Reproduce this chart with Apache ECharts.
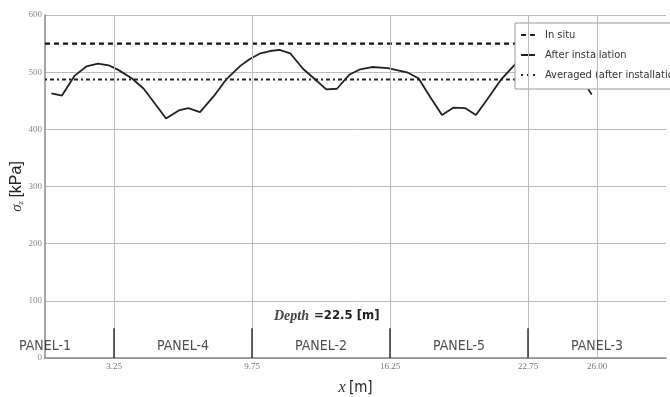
<!DOCTYPE html>
<html>
<head>
<meta charset="utf-8">
<script src="https://cdn.jsdelivr.net/npm/echarts@6/dist/echarts.min.js"></script>
<style>html,body{margin:0;padding:0;background:#fff}#c{width:670px;height:397px}</style>
</head>
<body>
<div id="c"></div>
<script>
// ---- data ----
var xPos = [0.3, 0.8, 1.4, 1.95, 2.5, 3.0, 3.45, 4.1, 4.65, 5.2, 5.7, 6.3, 6.75, 7.3, 7.95, 8.55, 9.2, 9.65, 10.15, 10.6, 11.05, 11.55, 12.15, 12.7, 13.25, 13.75, 14.35, 14.85, 15.4, 16.15, 17.1, 17.6, 18.15, 18.7, 19.25, 19.8, 20.3, 20.9, 21.5, 22.15, 22.7, 23.3, 23.9, 24.6, 25.2, 25.75];
var sigmaAfter = [463, 459, 494, 510, 515, 512, 504, 489, 471, 444, 419, 433, 437, 430, 458, 488, 511, 523, 533, 537, 539, 533, 506, 488, 470, 471, 496, 505, 509, 507, 499, 489, 456, 425, 438, 437, 425, 456, 488, 514, 530, 538, 535, 518, 492, 461];
var sigmaInSitu = 550;
var sigmaAveraged = 487;
var xRange = [0, 29.25];
var xTicks = [3.25, 9.75, 16.25, 22.75, 26.00];
var panelJoints = [3.25, 9.75, 16.25, 22.75];
var panelJointHeight = 52;
var panelCenters = [0, 6.5, 13, 19.5, 26];
var panelNames = ['PANEL-1', 'PANEL-4', 'PANEL-2', 'PANEL-5', 'PANEL-3'];
var panelLabelY = 20;
var depthLabel = 22.5;
var seriesNames = ['In situ', 'After installation', 'Averaged (after installation)'];

var narrow = '"Liberation Sans Narrow", "DejaVu Sans Condensed", "Arial Narrow", "Liberation Sans", sans-serif';
var serif = '"Liberation Serif", "DejaVu Serif", serif';

var chart = echarts.init(document.getElementById('c'), null, {renderer: 'canvas'});

var afterData = xPos.map(function (x, i) { return [x, sigmaAfter[i]]; });
var panelData = panelCenters.map(function (x, i) { return {value: [x, panelLabelY], name: panelNames[i]}; });

var legendIcons = [
  'path://M0,0h5v2h-5z M9,0h5v2h-5z',
  'path://M0,0h14v2h-14z',
  'path://M0,0h2v2h-2z M6,0h2v2h-2z M12,0h2v2h-2z'
];

var option = {
  animation: false,
  backgroundColor: '#fff',
  grid: {left: 45, top: 15, right: 4, bottom: 39, outerBoundsMode: 'none', containLabel: false},
  title: {
    text: '{i|Depth} {n|=' + depthLabel + ' [m]}',
    left: 274, top: 307, padding: 0,
    textStyle: {
      rich: {
        i: {fontFamily: serif, fontStyle: 'italic', fontSize: 14, color: '#444'},
        n: {fontFamily: narrow, fontSize: 13, color: '#222'}
      }
    }
  },
  legend: {
    orient: 'vertical',
    left: 515, top: 23,
    padding: [5, 60, 7, 6],
    itemGap: 6,
    itemWidth: 14, itemHeight: 2,
    backgroundColor: '#fff',
    borderColor: '#999', borderWidth: 1,
    data: seriesNames.map(function (n, i) {
      return {name: n, icon: legendIcons[i], itemStyle: {color: '#222'}};
    }),
    textStyle: {fontFamily: narrow, fontSize: 11, lineHeight: 14, color: '#333', padding: [0, 0, 0, 5]}
  },
  xAxis: {
    type: 'value', min: xRange[0], max: xRange[1],
    name: '{i|x} {n|[m]}', nameLocation: 'middle', nameGap: 22,
    nameTextStyle: {
      rich: {
        i: {fontFamily: serif, fontStyle: 'italic', fontSize: 16, color: '#333'},
        n: {fontFamily: narrow, fontSize: 15, color: '#222'}
      }
    },
    axisLine: {show: true, onZero: false, lineStyle: {color: '#888', width: 1.5}},
    axisTick: {show: false},
    splitLine: {show: false},
    axisLabel: {
      customValues: xTicks, margin: 4,
      fontFamily: serif, fontSize: 9, color: '#777',
      formatter: function (v) { return v.toFixed(2); }
    }
  },
  yAxis: {
    type: 'value', min: 0, max: 600, interval: 100,
    name: '{s|σ}{sub|z} {b|[kPa]}', nameLocation: 'middle', nameGap: 20,
    nameMoveOverlap: false,
    nameTextStyle: {
      rich: {
        s: {fontFamily: serif, fontStyle: 'italic', fontSize: 15, color: '#333'},
        sub: {fontFamily: serif, fontStyle: 'italic', fontSize: 9, color: '#333', verticalAlign: 'bottom', padding: [7, 0, 0, 0]},
        b: {fontFamily: '"Liberation Sans", sans-serif', fontSize: 16, color: '#222'}
      }
    },
    axisLine: {show: true, lineStyle: {color: '#888', width: 1.5}},
    axisTick: {show: false},
    splitLine: {show: true, lineStyle: {color: '#bbb', width: 1}},
    axisLabel: {fontFamily: serif, fontSize: 9, color: '#888', margin: 3}
  },
  series: [
    {
      name: seriesNames[0], type: 'line', symbol: 'none',
      data: [[xRange[0], sigmaInSitu], [xRange[1], sigmaInSitu]],
      itemStyle: {color: '#111'},
      lineStyle: {color: '#111', width: 2.2, type: [5, 4]},
      z: 3
    },
    {
      name: seriesNames[1], type: 'line', symbol: 'none',
      data: afterData,
      itemStyle: {color: '#222'},
      lineStyle: {color: '#222', width: 1.8},
      z: 3,
      markLine: {
        silent: true, symbol: 'none', label: {show: false},
        data: xTicks.map(function (x) {
          return [{coord: [x, 0], lineStyle: {color: '#bbb', width: 1, type: 'solid'}}, {coord: [x, 600]}];
        }).concat(panelJoints.map(function (x) {
          return [{coord: [x, 0], lineStyle: {color: '#333', width: 1.5, type: 'solid'}}, {coord: [x, panelJointHeight]}];
        }))
      }
    },
    {
      name: seriesNames[2], type: 'line', symbol: 'none',
      data: [[xRange[0], sigmaAveraged], [xRange[1], sigmaAveraged]],
      itemStyle: {color: '#222'},
      lineStyle: {color: '#222', width: 2, type: [2, 3, 4, 3]},
      z: 3
    },
    {
      name: 'panels', type: 'scatter', symbolSize: 0, clip: false,
      data: panelData,
      label: {
        show: true, position: 'inside',
        formatter: function (p) { return p.name; },
        fontFamily: narrow, fontSize: 14, color: '#222'
      },
      z: 5
    }
  ]
};
chart.setOption(option);
</script>
</body>
</html>
